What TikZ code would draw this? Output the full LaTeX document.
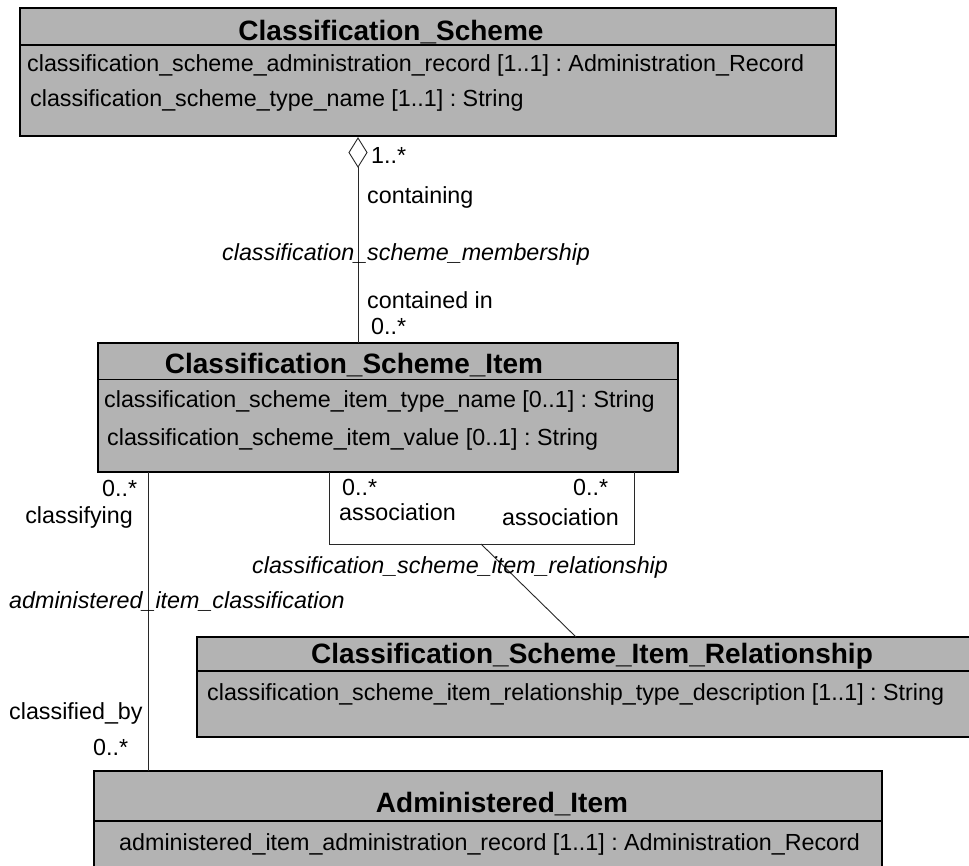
\documentclass[tikz,border=0pt]{standalone}
\usepackage{fontspec}
\setmainfont{Liberation Sans}
\usetikzlibrary{shapes.geometric}
\frenchspacing
\definecolor{boxgray}{RGB}{179,179,179}
\definecolor{linegray}{RGB}{40,40,40}
\tikzset{
  umlbox/.style={draw=black, fill=boxgray, line width=1.3pt, inner sep=0pt, outer sep=0pt, anchor=north west},
  divider/.style={draw=black, line width=1.3pt},
  ttl/.style={anchor=base, inner sep=0pt, font=\fontsize{28}{32}\selectfont\bfseries},
  attr/.style={anchor=base west, inner sep=0pt, font=\fontsize{23.3}{28}\selectfont},
  lbl/.style={anchor=base west, inner sep=0pt, font=\fontsize{23.3}{28}\selectfont},
  lblr/.style={anchor=base east, inner sep=0pt, font=\fontsize{23.3}{28}\selectfont},
  rolename/.style={anchor=base west, inner sep=0pt, font=\fontsize{23.3}{28}\selectfont\itshape},
  conn/.style={draw=linegray, line width=0.9pt},
}
\begin{document}
\begin{tikzpicture}[x=1pt,y=-1pt]
\useasboundingbox (0,0) rectangle (969,865);

% Classification_Scheme
\node[umlbox, minimum width=816pt, minimum height=128pt] (cs) at (20,8) {};
\draw[divider] (cs.west |- 0,45) -- (cs.east |- 0,45);
\node[ttl] (cst) at (391,40) {Classification\_Scheme};
\node[attr] (csa1) at (27,71) {classification\_scheme\_administration\_record [1..1] : Administration\_Record};
\node[attr] (csa2) at (30,106) {classification\_scheme\_type\_name [1..1] : String};

% Classification_Scheme_Item
\node[umlbox, minimum width=580pt, minimum height=129pt] (csi) at (98,343) {};
\draw[divider] (csi.west |- 0,379.5) -- (csi.east |- 0,379.5);
\node[ttl] (csit) at (354,373) {Classification\_Scheme\_Item};
\node[attr] (csia1) at (104,407) {classification\_scheme\_item\_type\_name [0..1] : String};
\node[attr] (csia2) at (107,445) {classification\_scheme\_item\_value [0..1] : String};

% Classification_Scheme_Item_Relationship
\node[umlbox, minimum width=780pt, minimum height=100pt] (csir) at (197,637) {};
\draw[divider] (csir.west |- 0,671) -- (csir.east |- 0,671);
\node[ttl] (csirt) at (592,663) {Classification\_Scheme\_Item\_Relationship};
\node[attr] (csira1) at (207,700) {classification\_scheme\_item\_relationship\_type\_description [1..1] : String};

% Administered_Item
\node[umlbox, minimum width=788pt, minimum height=110pt] (ai) at (94,771) {};
\draw[divider] (ai.west |- 0,821) -- (ai.east |- 0,821);
\node[ttl] (ait) at (502,812) {Administered\_Item};
\node[attr] (aia1) at (119,850) {administered\_item\_administration\_record [1..1] : Administration\_Record};

% membership (aggregation)
\node[draw=linegray, line width=0.9pt, fill=white, diamond, inner sep=0pt, outer sep=0pt,
      minimum width=18pt, minimum height=29pt] (dia) at (358,152.5) {};
\draw[conn] (dia.south) -- (dia.south |- csi.north);
\node[lbl] (m1) at (371,163) {1..*};
\node[lbl] (m2) at (367,203) {containing};
\node[rolename] (m3) at (222,260) {classification\_scheme\_membership};
\node[lbl] (m4) at (367,308) {contained in};
\node[lbl] (m5) at (371,334) {0..*};

% self association
\coordinate (abl) at (329,544);
\coordinate (amid) at (481,544);
\draw[conn] (csi.south -| abl) -- (abl) -- (abl -| 634,0) -- (csi.south -| 634,0);
\draw[conn] (amid) -- (csir.north -| 576,0);
\node[lbl] (r1) at (342,495) {0..*};
\node[lbl] (r2) at (339,520) {association};
\node[lbl] (r3) at (573,495) {0..*};
\node[lbl] (r4) at (502,525) {association};
\node[rolename] (r5) at (252,573) {classification\_scheme\_item\_relationship};

% classification
\draw[conn] (csi.south -| 148,0) -- (ai.north -| 148,0);
\node[lbl] (c1) at (102,496) {0..*};
\node[lblr] (c2) at (133,523) {classifying};
\node[rolename] (c3) at (9,608) {administered\_item\_classification};
\node[lbl] (c4) at (9,719) {classified\_by};
\node[lbl] (c5) at (93,755) {0..*};
\end{tikzpicture}
\end{document}
